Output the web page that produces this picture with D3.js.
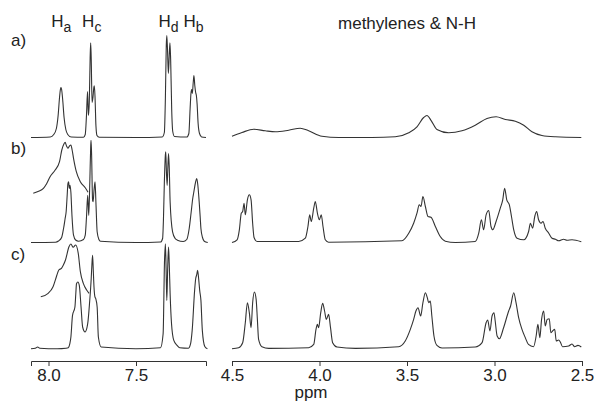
<!DOCTYPE html>
<html>
<head>
<meta charset="utf-8">
<script src="https://cdn.jsdelivr.net/npm/d3@7"></script>
<style>
  body { margin: 0; background: #fff; }
  svg { display: block; font-family: 'Liberation Sans', Arial, sans-serif; }
  .axis path, .axis line { stroke: #333; }
  .axis text { font-size: 17px; fill: #222; font-family: 'Liberation Sans', Arial, sans-serif; }
</style>
</head>
<body>
<div class="viz"></div>
<script>
'use strict'

const width = 595,
  height = 407;

// ppm ranges of the two panels
const ppm_left = [8.1, 7.1],
  ppm_right = [4.5, 2.5];
const major_left = [8.0, 7.5],
  major_right = [4.5, 4.0, 3.5, 3.0, 2.5];

const trace_labels = ['a)', 'b)', 'c)'];
const peak_labels = [
  {ppm: 7.985, h: 'H', sub: 'a'},
  {ppm: 7.808, h: 'H', sub: 'c'},
  {ppm: 7.372, h: 'H', sub: 'd'},
  {ppm: 7.229, h: 'H', sub: 'b'}
];
const title_right = 'methylenes & N-H';
const axis_title = 'ppm';

// spectra: [ppm, intensity]
const arom_a = [[8.10,0],[7.99,0.5],[7.97,3],[7.955,9],[7.945,22],[7.937,40],[7.932,48],[7.929,50],
  [7.925,48],[7.919,38],[7.911,20],[7.901,8],[7.89,3],[7.87,0.5],[7.80,0.3],[7.79,3],[7.783,22],
  [7.777,46],[7.772,22],[7.767,35],[7.762,80],[7.759,94.6],[7.756,80],[7.751,35],[7.746,40],
  [7.741,50],[7.738,51.6],[7.734,40],[7.729,12],[7.723,2],[7.71,0.3],[7.5,0],[7.35,0.5],[7.338,5],
  [7.332,40],[7.327,92],[7.324,102],[7.320,88],[7.315,64],[7.310,82],[7.306,94.6],[7.302,78],
  [7.296,28],[7.290,6],[7.28,1],[7.21,0.5],[7.198,4],[7.191,28],[7.186,44],[7.182,48],[7.178,44],
  [7.173,55],[7.169,62],[7.164,52],[7.159,45],[7.155,42],[7.151,34],[7.145,14],[7.137,4],
  [7.125,0.5],[7.10,0]];

const arom_b = [[8.10,0],[7.96,0.3],[7.943,1.5],[7.925,5],[7.914,14],[7.905,24],[7.899,31],
  [7.893,48],[7.889,59],[7.885,60.6],[7.881,54],[7.877,57.3],[7.872,50],[7.866,27.3],[7.857,7.3],
  [7.845,2.5],[7.828,1.3],[7.80,3],[7.79,7.3],[7.783,25],[7.776,47.3],[7.770,27],[7.764,60],
  [7.759,95],[7.757,102.3],[7.754,90],[7.748,42],[7.745,40.7],[7.740,52],[7.734,60.6],[7.729,40],
  [7.722,10.7],[7.712,3],[7.703,1.3],[7.5,0],[7.36,0.5],[7.348,4],[7.343,24],[7.338,60],[7.332,88],
  [7.330,90.7],[7.326,70],[7.322,57],[7.318,75],[7.314,89],[7.310,75],[7.305,40.7],[7.291,10.7],
  [7.276,4],[7.263,2.3],[7.23,1],[7.21,3],[7.196,14],[7.185,30],[7.175,45],[7.171,49],[7.160,60],
  [7.153,64],[7.147,58],[7.139,40.7],[7.133,25],[7.129,14],[7.12,5],[7.11,1.3],[7.09,0]];

const arom_b_zoom = [[8.087,0.7],[8.06,2.5],[8.029,5.7],[8.01,10.5],[7.991,17.3],[7.962,24],
  [7.937,32.3],[7.924,44],[7.912,50],[7.905,51.7],[7.897,48],[7.889,45.7],[7.880,48],[7.872,49],
  [7.865,44],[7.857,35.7],[7.841,22.3],[7.818,12.3],[7.790,6.3],[7.774,1.7]];

const arom_c = [[8.10,0],[8.075,0.5],[8.062,1.7],[8.05,0.5],[7.95,0],[7.90,0.5],[7.887,1],
  [7.878,5],[7.872,11.7],[7.863,33],[7.849,41.7],[7.844,55],[7.840,65],[7.832,66.7],[7.824,63.3],
  [7.814,41.7],[7.805,21.7],[7.791,16.7],[7.776,25],[7.765,46.7],[7.756,70],[7.752,84],[7.748,93.3],
  [7.744,78],[7.740,61.7],[7.735,52],[7.730,50],[7.722,41.7],[7.715,11.7],[7.699,1.7],[7.5,0],
  [7.36,1],[7.345,15],[7.337,88.3],[7.332,105],[7.328,80],[7.324,48.3],[7.319,80],[7.314,101.7],
  [7.310,85],[7.305,55],[7.297,25],[7.284,8.3],[7.265,3.3],[7.25,1],[7.20,0.5],[7.188,5],
  [7.179,18.3],[7.165,58.3],[7.159,70],[7.153,74],[7.148,78.3],[7.142,70],[7.136,58.3],
  [7.129,48.3],[7.121,18.3],[7.107,2.3],[7.092,0]];

const arom_c_zoom = [[8.044,0.3],[8.002,3.7],[7.974,10.3],[7.955,20.3],[7.941,27],[7.926,28.7],
  [7.915,32],[7.903,37],[7.883,50.3],[7.872,53],[7.859,49.7],[7.845,52],[7.830,43.7],[7.818,25.3],
  [7.801,13.7],[7.782,7],[7.768,3.7]];

const aliph_a = [[4.5,1.3],[4.443,5],[4.376,8.3],[4.310,6.7],[4.252,5.7],[4.176,7.3],[4.110,9.3],
  [4.062,6.7],[3.986,1.3],[3.890,0],[3.700,0],[3.567,0.7],[3.490,4.7],[3.443,10.7],[3.405,20],
  [3.386,22],[3.361,16.7],[3.329,8],[3.262,4.7],[3.186,6.7],[3.110,12.3],[3.043,19],[2.991,20.7],
  [2.938,18],[2.881,16.3],[2.833,12.3],[2.786,5.7],[2.729,2],[2.652,0.7],[2.504,0]];

const aliph_b = [[4.5,0],[4.471,2.7],[4.458,12.7],[4.447,29.3],[4.439,31],[4.431,39.3],[4.424,27.7],
  [4.412,42.7],[4.401,47.7],[4.391,42.7],[4.382,19.3],[4.374,5],[4.357,1],[4.119,1],[4.081,4.3],
  [4.066,16],[4.056,27.7],[4.047,21],[4.033,34.3],[4.024,41],[4.012,29.3],[4.001,22.7],[3.990,27.7],
  [3.980,16],[3.967,2.7],[3.948,0.3],[3.529,1.7],[3.490,9.3],[3.462,19.3],[3.443,29.3],[3.430,37.7],
  [3.420,36],[3.409,46],[3.395,36],[3.380,26],[3.363,25.3],[3.338,16],[3.310,6],[3.281,1.3],
  [3.224,0],[3.110,1],[3.090,9.3],[3.075,22.7],[3.062,12.7],[3.048,27.7],[3.033,32],[3.020,16],
  [3.010,12.7],[2.991,21],[2.967,34.3],[2.953,42.7],[2.942,54.3],[2.930,42.7],[2.915,37.7],
  [2.903,26],[2.890,12.7],[2.871,4.3],[2.833,2.7],[2.805,11],[2.795,19.3],[2.782,14.3],[2.770,26],
  [2.759,31],[2.748,22.7],[2.734,19.3],[2.723,21],[2.710,14.3],[2.690,9.3],[2.671,4.3],[2.652,3.3],
  [2.633,1.7],[2.605,3.3],[2.586,2.3],[2.557,2.7],[2.504,0.7]];

const aliph_c = [[4.5,0],[4.462,1],[4.439,6],[4.424,26],[4.412,46],[4.401,36],[4.391,21],[4.382,46],
  [4.372,56.7],[4.362,49.3],[4.355,29.3],[4.348,9.3],[4.329,2],[4.290,0.3],[4.062,1],[4.033,4.3],
  [4.020,19.3],[4.012,24.3],[4.005,21],[3.993,36],[3.982,45.3],[3.971,37.7],[3.961,29.3],
  [3.948,34.3],[3.937,21],[3.925,6],[3.900,1.7],[3.795,0.3],[3.548,2],[3.510,7.7],[3.481,19.3],
  [3.462,29.3],[3.449,37.7],[3.437,41],[3.422,32.7],[3.409,46],[3.395,56],[3.384,51],[3.376,46],
  [3.367,47.7],[3.358,32.7],[3.346,12.7],[3.329,3.3],[3.300,0.7],[3.110,1.7],[3.071,6],[3.048,26],
  [3.039,28.7],[3.026,17.7],[3.014,32.7],[3.003,36],[2.996,27.7],[2.985,12.7],[2.972,10],
  [2.948,21],[2.919,37.7],[2.908,42.7],[2.890,56],[2.877,46],[2.862,31],[2.843,19.3],[2.824,11],
  [2.806,4.3],[2.777,2],[2.762,12.7],[2.752,24.3],[2.741,11],[2.731,29.3],[2.719,37.7],
  [2.710,22.7],[2.699,29.3],[2.687,30],[2.678,16],[2.668,17.7],[2.656,19.3],[2.647,7.7],
  [2.633,8.7],[2.624,6.7],[2.611,2],[2.576,2.7],[2.557,4.7],[2.542,2],[2.523,3.3],[2.504,1.7]];

// layout
const axis_y = 361;
const base_a = 137.5,
  base_b = 242.5,
  base_c = 348.7,
  base_b_zoom = 194,
  base_c_zoom = 297;

let svg = d3.select('.viz')
  .append('svg')
  .attr('width', width)
  .attr('height', height);

let x_left = d3.scaleLinear().domain(ppm_left).range([31, 206]);
let x_right = d3.scaleLinear().domain(ppm_right).range([232, 582]);

const traces = [
  {data: arom_a, x: x_left, base: base_a},
  {data: arom_b, x: x_left, base: base_b},
  {data: arom_b_zoom, x: x_left, base: base_b_zoom},
  {data: arom_c, x: x_left, base: base_c},
  {data: arom_c_zoom, x: x_left, base: base_c_zoom},
  {data: aliph_a, x: x_right, base: base_a},
  {data: aliph_b, x: x_right, base: base_b},
  {data: aliph_c, x: x_right, base: base_c}
];

let g_traces = svg.append('g')
  .attr('fill', 'none')
  .attr('stroke', '#333')
  .attr('stroke-width', 1.1)
  .attr('stroke-linejoin', 'round');

traces.forEach(t => {
  let y = d3.scaleLinear().domain([0, 100]).range([t.base, t.base - 100]);
  let line = d3.line()
    .x(d => t.x(d[0]))
    .y(d => y(d[1]))
    .curve(d3.curveMonotoneX);
  g_traces.append('path')
    .datum(t.data)
    .attr('d', line);
});

// axes
function draw_axis(x, major, n_minor) {
  let g = svg.append('g')
    .attr('class', 'axis')
    .attr('transform', `translate(0,${axis_y})`);
  g.call(d3.axisBottom(x).ticks(n_minor).tickSize(3).tickFormat(''));
  g.call(d3.axisBottom(x).tickValues(major).tickSize(5).tickPadding(3)
    .tickFormat(d3.format('.1f')));
  g.selectAll('.domain').attr('stroke', '#333');
}
draw_axis(x_left, major_left, 10);
draw_axis(x_right, major_right, 20);

svg.append('text')
  .attr('x', 311)
  .attr('y', 398)
  .attr('text-anchor', 'middle')
  .style('font-size', '17px')
  .style('fill', '#222')
  .text(axis_title);

svg.append('text')
  .attr('x', 407)
  .attr('y', 29)
  .attr('text-anchor', 'middle')
  .style('font-size', '17px')
  .style('fill', '#222')
  .text(title_right);

// trace labels
svg.selectAll('.trace_label')
  .data(trace_labels)
  .join('text')
  .attr('class', 'trace_label')
  .attr('x', 11)
  .attr('y', (d, i) => [46, 154, 260][i])
  .style('font-size', '17px')
  .style('fill', '#222')
  .text(d => d);

// peak labels
let pl = svg.selectAll('.peak_label')
  .data(peak_labels)
  .join('text')
  .attr('class', 'peak_label')
  .attr('x', d => x_left(d.ppm))
  .attr('y', 27)
  .style('font-size', '17px')
  .style('fill', '#222');
pl.append('tspan').text(d => d.h);
pl.append('tspan')
  .attr('dy', 5)
  .style('font-size', '14px')
  .text(d => d.sub);
</script>
</body>
</html>
